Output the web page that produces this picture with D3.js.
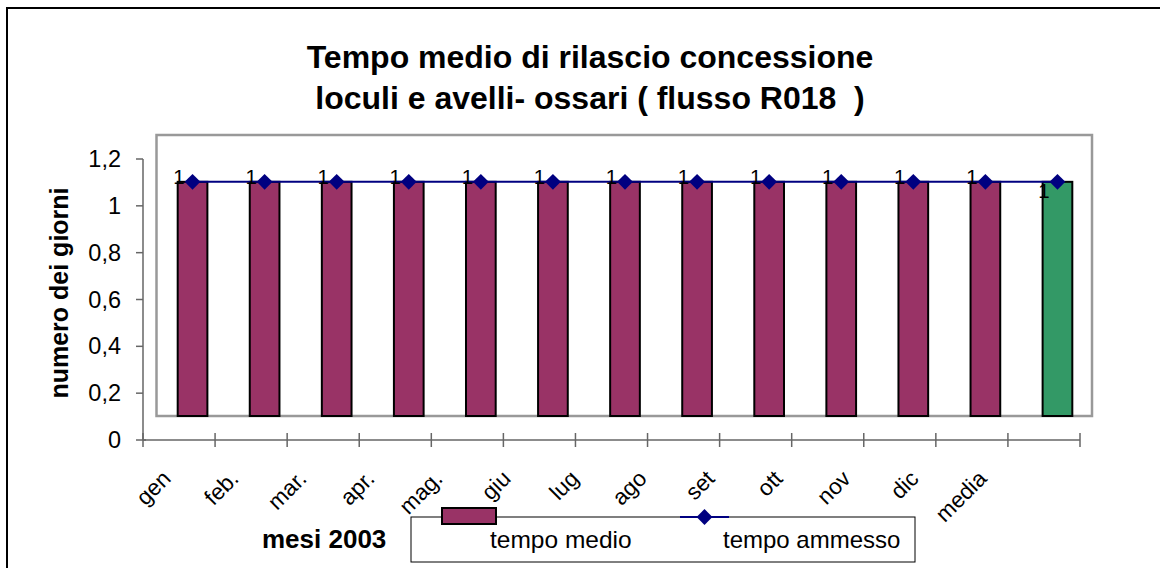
<!DOCTYPE html>
<html>
<head>
<meta charset="utf-8">
<script src="https://cdn.jsdelivr.net/npm/d3@7/dist/d3.min.js"></script>
<style>
  html, body { margin: 0; padding: 0; background: #fff; }
  svg { display: block; font-family: Arial, "Liberation Sans", sans-serif; }
</style>
</head>
<body>
<svg id="chart" width="1160" height="568"></svg>
<script>
// Months of 2003 plus the yearly average
const categories = ["gen", "feb.", "mar.", "apr.", "mag.", "giu", "lug", "ago", "set", "ott", "nov", "dic", "media"];
// tempo medio (days) for each month
const monthlyMean = [1, 1, 1, 1, 1, 1, 1, 1, 1, 1, 1, 1];
// yearly average (green bar)
const yearlyMean = [1];
// tempo ammesso (days), one point per category
const allowedTime = [1, 1, 1, 1, 1, 1, 1, 1, 1, 1, 1, 1, 1];
// value axis ticks
const yTicks = [0, 0.2, 0.4, 0.6, 0.8, 1, 1.2];
const yTickLabels = ["0", "0,2", "0,4", "0,6", "0,8", "1", "1,2"];

const titleLines = ["Tempo medio di rilascio concessione", "loculi e avelli- ossari ( flusso R018  )"];
const yTitle = "numero dei giorni";
const xTitle = "mesi 2003";
const seriesNames = ["tempo medio", "tempo ammesso"];

const purple = "#993366", green = "#339966", navy = "#000080";

const svg = d3.select("#chart");

// outer frame
svg.append("rect").attr("x", 7).attr("y", 8).attr("width", 1200).attr("height", 620)
  .attr("fill", "#fff").attr("stroke", "#000").attr("stroke-width", 2);

// title
svg.append("g").selectAll("text").data(titleLines).join("text")
  .attr("x", 590).attr("y", (d, i) => 68 + i * 41)
  .attr("text-anchor", "middle").attr("font-weight", "bold").attr("font-size", 32)
  .attr("xml:space", "preserve")
  .text(d => d);

// plot-area scales
const x = d3.scaleBand().domain(categories).range([156.5, 1093.5]).paddingInner(0).paddingOuter(0);
const y = d3.scaleLinear().domain([0, 1.2]).range([416, 135]);
const barW = 29.7;

// plot area frame
svg.append("rect")
  .attr("x", x.range()[0]).attr("y", y(1.2))
  .attr("width", x.range()[1] - x.range()[0] - 1.5).attr("height", y(0) - y(1.2))
  .attr("fill", "#fff").attr("stroke", "#999").attr("stroke-width", 2.5);

// axes, drawn offset from the plot area
const axisDx = -13.5, axisDy = 24;
const axisG = svg.append("g").attr("transform", `translate(${axisDx},${axisDy})`);
const axisColor = "#666";

// value axis
axisG.append("line")
  .attr("x1", x.range()[0]).attr("x2", x.range()[0])
  .attr("y1", y(0)).attr("y2", y(1.2))
  .attr("stroke", axisColor).attr("stroke-width", 1.5);
axisG.selectAll(".ytick").data(yTicks).join("line")
  .attr("x1", x.range()[0] - 7).attr("x2", d => x.range()[0] + (d === 0 ? 3 : 0))
  .attr("y1", d => y(d)).attr("y2", d => y(d))
  .attr("stroke", axisColor).attr("stroke-width", 1.5);
axisG.selectAll(".ylab").data(yTicks).join("text")
  .attr("x", x.range()[0] - 22).attr("y", d => y(d) + 8)
  .attr("text-anchor", "end").attr("font-size", 23.5)
  .text((d, i) => yTickLabels[i]);

// category axis
axisG.append("line")
  .attr("x1", x.range()[0]).attr("x2", x.range()[1])
  .attr("y1", y(0)).attr("y2", y(0))
  .attr("stroke", axisColor).attr("stroke-width", 1.5);
const boundaries = categories.map(c => x(c)).concat([x.range()[1]]);
axisG.selectAll(".xtick").data(boundaries).join("line")
  .attr("x1", d => d).attr("x2", d => d)
  .attr("y1", y(0) - 7).attr("y2", y(0) + 7)
  .attr("stroke", axisColor).attr("stroke-width", 1.5);

// rotated category labels
const xLab = d3.scalePoint().domain(categories).range([172, 988]);
svg.append("g").selectAll("text").data(categories).join("text")
  .attr("transform", d => `translate(${xLab(d)},480) rotate(-45)`)
  .attr("text-anchor", "end").attr("font-size", 22.5)
  .text(d => d);

// axis titles
svg.append("text")
  .attr("transform", "translate(68,293) rotate(-90)")
  .attr("text-anchor", "middle").attr("font-weight", "bold").attr("font-size", 25)
  .text(yTitle);
svg.append("text")
  .attr("x", 262).attr("y", 548)
  .attr("font-weight", "bold").attr("font-size", 26)
  .text(xTitle);

// bars: monthly means
const monthCats = categories.slice(0, monthlyMean.length);
svg.append("g").selectAll("rect").data(monthlyMean).join("rect")
  .attr("x", (d, i) => x(monthCats[i]) + (x.bandwidth() - barW) / 2)
  .attr("y", d => y(d))
  .attr("width", barW).attr("height", d => y(0) - y(d))
  .attr("fill", purple).attr("stroke", "#000").attr("stroke-width", 2);

// bar: yearly average
const avgCats = categories.slice(monthlyMean.length);
svg.append("g").selectAll("rect").data(yearlyMean).join("rect")
  .attr("x", (d, i) => x(avgCats[i]) + (x.bandwidth() - barW) / 2)
  .attr("y", d => y(d))
  .attr("width", barW).attr("height", d => y(0) - y(d))
  .attr("fill", green).attr("stroke", "#000").attr("stroke-width", 2);

// line: tempo ammesso
const cx = c => x(c) + x.bandwidth() / 2;
svg.append("path")
  .datum(allowedTime)
  .attr("d", d3.line().x((d, i) => cx(categories[i])).y(d => y(d)))
  .attr("fill", "none").attr("stroke", navy).attr("stroke-width", 2);
// diamond marker: a square turned by 45 degrees
const diamond = d3.symbol().type(d3.symbolSquare).size(125);
svg.append("g").selectAll("path").data(allowedTime).join("path")
  .attr("transform", (d, i) => `translate(${cx(categories[i])},${y(d)}) rotate(45)`)
  .attr("d", diamond)
  .attr("fill", navy);

// data labels
svg.append("g").selectAll("text").data(monthlyMean).join("text")
  .attr("x", (d, i) => cx(monthCats[i]) + axisDx)
  .attr("y", d => y(d) + 2)
  .attr("text-anchor", "middle").attr("font-size", 20.5)
  .text(d => d3.format("d")(d));
svg.append("g").selectAll("text").data(yearlyMean).join("text")
  .attr("x", (d, i) => cx(avgCats[i]) + axisDx)
  .attr("y", d => y(d) + 16)
  .attr("text-anchor", "middle").attr("font-size", 20.5)
  .text(d => d3.format("d")(d));

// legend
const lg = svg.append("g");
lg.append("rect").attr("x", 411).attr("y", 517).attr("width", 504).attr("height", 45)
  .attr("fill", "#fff").attr("stroke", "#000").attr("stroke-width", 1);
lg.append("rect").attr("x", 442).attr("y", 508).attr("width", 54).attr("height", 16)
  .attr("fill", purple).attr("stroke", "#000").attr("stroke-width", 2);
lg.append("text").attr("x", 490).attr("y", 548).attr("font-size", 24.5).text(seriesNames[0]);
lg.append("line").attr("x1", 680).attr("x2", 729).attr("y1", 517).attr("y2", 517)
  .attr("stroke", navy).attr("stroke-width", 2);
lg.append("path").attr("transform", "translate(704.5,517) rotate(45)").attr("d", diamond).attr("fill", navy);
lg.append("text").attr("x", 723).attr("y", 548).attr("font-size", 24).text(seriesNames[1]);
</script>
</body>
</html>
